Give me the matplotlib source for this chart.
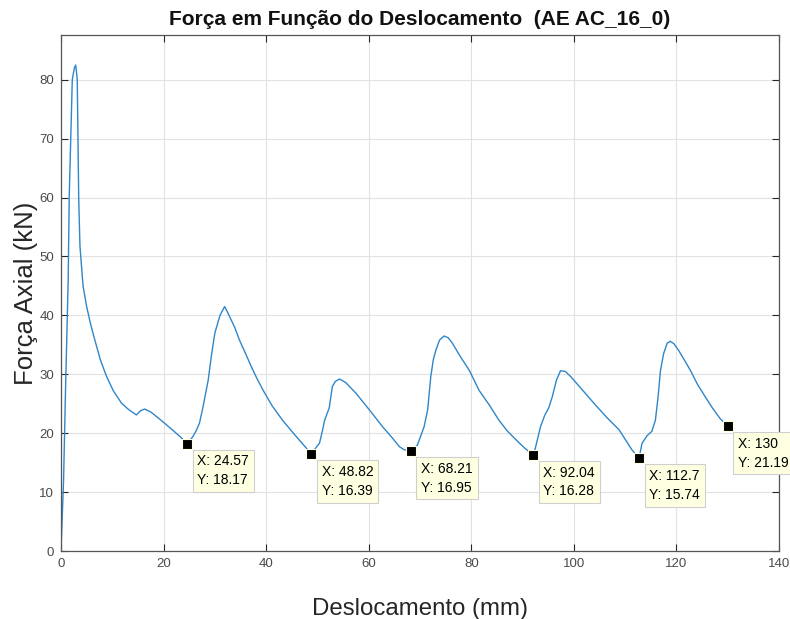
import matplotlib.pyplot as plt
import numpy as np

# Ensaio AE AC_16_0: força axial x deslocamento
desloc = [0.0, 0.5, 0.9, 1.4, 1.6, 1.9, 2.2, 2.6, 2.86, 3.0, 3.17, 3.45, 3.7,
          4.3, 5.0, 5.8, 6.6, 7.7, 8.9, 10.2, 11.8, 13.2, 14.7, 15.5, 16.3,
          17.5, 18.8, 20.2, 21.8, 23.5, 24.57, 25.7, 26.4, 27.0, 27.7, 28.7,
          29.3, 30.0, 31.0, 31.9, 32.5, 33.9, 34.8, 36.0, 37.0, 38.2, 39.4,
          41.2, 43.2, 45.5, 47.8, 48.82, 49.5, 50.4, 51.0, 51.4, 52.3, 52.9,
          53.5, 54.3, 55.5, 57.5, 60.0, 62.7, 64.5, 66.0, 66.9, 68.21, 69.5,
          70.8, 71.5, 72.1, 72.6, 73.1, 73.8, 74.7, 75.5, 76.3, 77.8, 79.6,
          81.5, 83.5, 85.4, 87.0, 88.7, 90.5, 92.04, 92.5, 93.5, 94.3, 95.1,
          95.8, 96.6, 97.4, 98.3, 99.4, 101.8, 104.2, 106.5, 108.8, 111.3,
          112.7, 113.3, 114.3, 115.2, 115.9, 116.4, 116.9, 117.5, 118.2,
          118.8, 119.5, 120.4, 121.5, 122.7, 124.1, 125.6, 127.0, 128.5,
          130.0]
forca = [0.0, 12.0, 28.0, 46.0, 60.0, 70.0, 80.0, 82.0, 82.5, 81.5, 80.0,
         60.0, 51.7, 45.0, 41.5, 38.4, 35.8, 32.4, 29.6, 27.2, 25.1, 24.0,
         23.1, 23.8, 24.1, 23.6, 22.7, 21.7, 20.5, 19.2, 18.17, 19.4, 20.5,
         21.7, 24.5, 29.0, 33.0, 37.0, 40.0, 41.5, 40.5, 37.9, 35.8, 33.5,
         31.5, 29.3, 27.3, 24.6, 22.2, 19.8, 17.5, 16.39, 17.3, 18.3, 20.5,
         22.2, 24.3, 27.9, 28.8, 29.2, 28.6, 26.8, 24.1, 21.1, 19.3, 17.7,
         17.2, 16.95, 18.0, 21.1, 24.0, 29.6, 32.5, 34.1, 35.8, 36.5, 36.2,
         35.3, 33.1, 30.7, 27.3, 24.8, 22.2, 20.4, 18.9, 17.4, 16.28, 17.5,
         21.1, 23.0, 24.3, 26.2, 29.0, 30.6, 30.5, 29.6, 27.2, 24.8, 22.6,
         20.6, 17.2, 15.74, 18.3, 19.6, 20.3, 22.2, 26.0, 30.7, 33.5, 35.3,
         35.6, 35.2, 34.1, 32.5, 30.7, 28.3, 26.2, 24.3, 22.5, 21.19]

# pontos marcados (data tips)
tip_x = [24.57, 48.82, 68.21, 92.04, 112.7, 130]
tip_y = [18.17, 16.39, 16.95, 16.28, 15.74, 21.19]

plt.rcParams["font.family"] = ["Liberation Sans", "DejaVu Sans"]
eixo_cor = "#262626"

fig = plt.figure(figsize=(7.9, 6.19), dpi=100)
ax = fig.add_axes([61 / 790, 1 - 551 / 619, 718 / 790, 516 / 619])

ax.plot(desloc, forca, color="#2f86c9", lw=1.0)

for x, y in zip(tip_x, tip_y):
    ax.plot(x, y, "s", ms=7, mfc="black", mec="#ffffe0", mew=0.8, zorder=5)
    ax.annotate(f"X: {x:g}\nY: {y:g}", xy=(x, y), xytext=(7.5, -7.5),
                textcoords="offset points", ha="left", va="top",
                fontsize=10, linespacing=1.45, annotation_clip=False,
                zorder=6,
                bbox=dict(boxstyle="square,pad=0.35", fc="#ffffe1",
                          ec="#cfcfcf", lw=0.8))

ax.set_xlim(0, 140)
ax.set_ylim(0, 87.6)
ax.set_xticks(np.arange(0, 141, 20))
ax.set_yticks(np.arange(0, 81, 10))
ax.grid(True, color="#e2e2e2", lw=0.8)
ax.set_axisbelow(True)
ax.tick_params(direction="in", top=True, right=True, length=5,
               color=eixo_cor, labelsize=9.5, labelcolor="#4a4a4a", pad=5)
for s in ax.spines.values():
    s.set_color("#555555")
    s.set_linewidth(0.9)

ax.set_xlabel("Deslocamento (mm)", fontsize=17.3, color=eixo_cor, labelpad=20)
ax.set_ylabel("Força Axial (kN)", fontsize=18.5, color=eixo_cor, labelpad=1)
ax.set_title("Força em Função do Deslocamento  (AE AC_16_0)",
             fontsize=15, fontweight="bold", color="#111111", pad=7)

fig.savefig("out.png", dpi=100)
